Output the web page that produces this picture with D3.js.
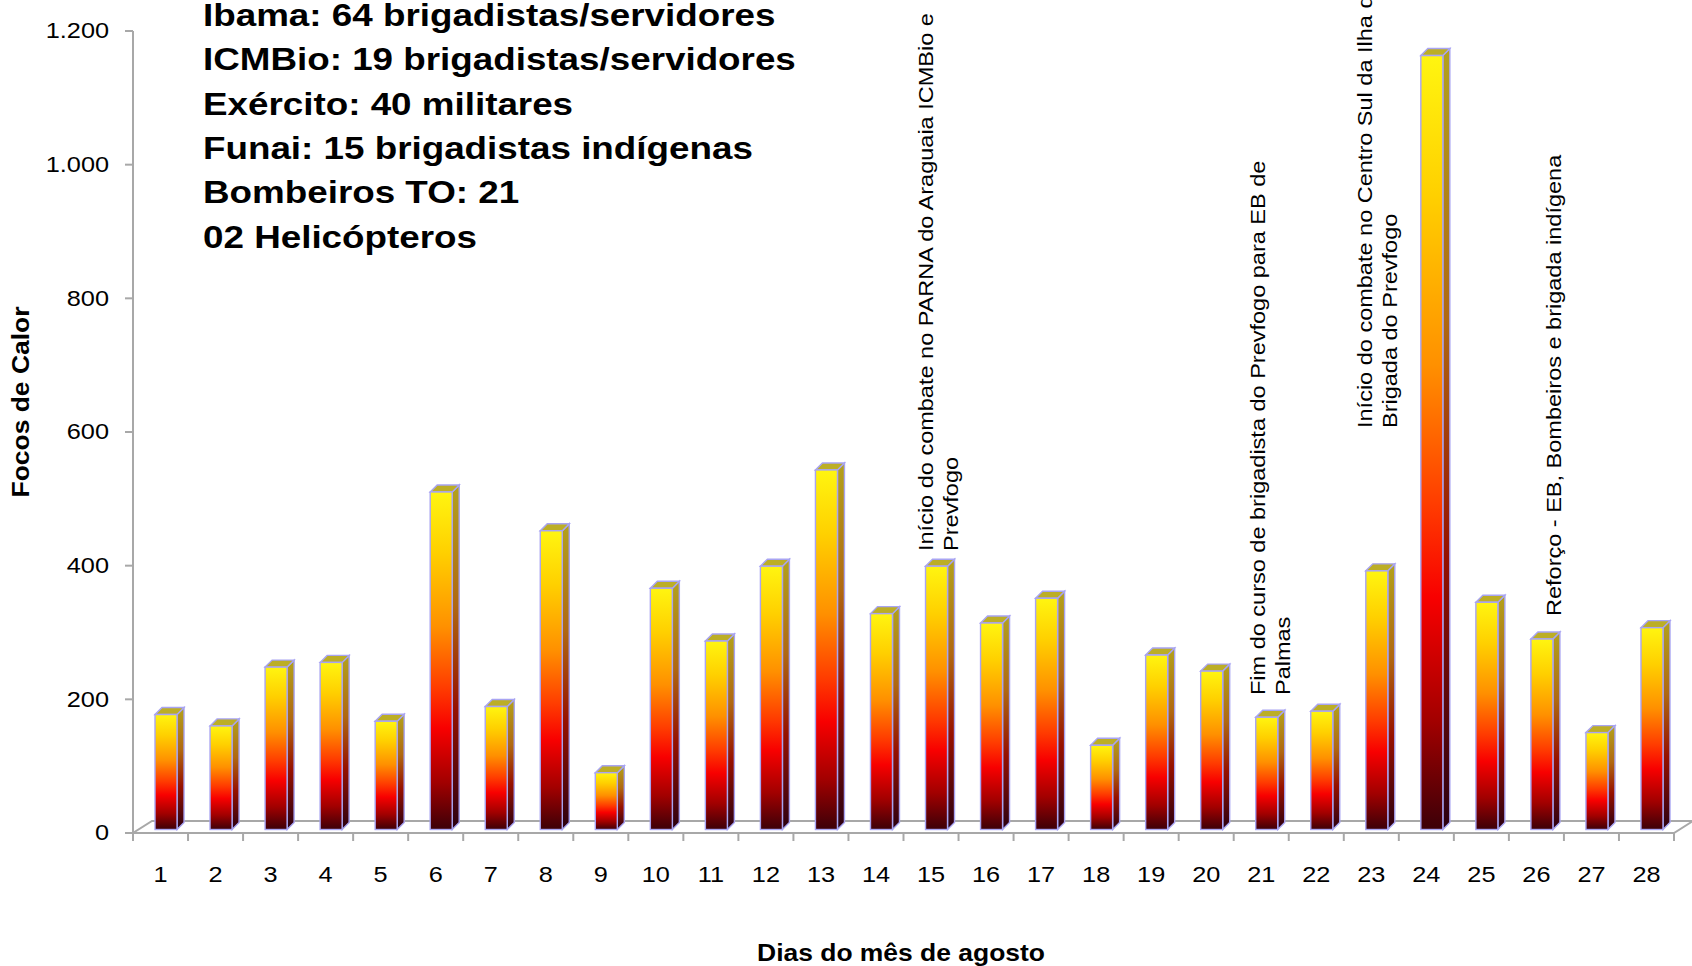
<!DOCTYPE html>
<html>
<head>
<meta charset="utf-8">
<script src="https://cdn.jsdelivr.net/npm/d3@7"></script>
<style>
  html, body { margin: 0; padding: 0; background: #ffffff; }
  svg { display: block; }
  text { font-family: "Liberation Sans", Arial, sans-serif; fill: #000; }
</style>
</head>
<body>
<svg id="chart" width="1692" height="966"></svg>
<script>
// ---------------- data ----------------
const days = [1,2,3,4,5,6,7,8,9,10,11,12,13,14,15,16,17,18,19,20,21,22,23,24,25,26,27,28];
const focos = [172,155,243,250,162,505,184,447,85,361,282,394,538,323,394,309,346,126,261,237,168,177,387,1158,340,285,145,302];
const yTicks = [0,200,400,600,800,1000,1200];
const yTickLabels = ["0","200","400","600","800","1.000","1.200"];
const infoLines = [
  "Ibama: 64 brigadistas/servidores",
  "ICMBio: 19 brigadistas/servidores",
  "Exército: 40 militares",
  "Funai: 15 brigadistas indígenas",
  "Bombeiros TO: 21",
  "02 Helicópteros"
];
const noteDays = [15, 21, 23, 26];
const noteTexts = [
  ["Início do combate no PARNA  do Araguaia ICMBio e", "Prevfogo"],
  ["Fim do curso de brigadista do Prevfogo para EB de", "Palmas"],
  ["Início do combate no Centro Sul da Ilha do Bananal", "Brigada do Prevfogo"],
  ["Reforço - EB,  Bombeiros e brigada indígena"]
];
const yTitle = "Focos de Calor";
const xTitle = "Dias do mês de agosto";

// ---------------- layout ----------------
const svg = d3.select("#chart");
const W = 1692, H = 966;
const y = d3.scaleLinear().domain([0, 1200]).range([833, 31]);
const x = d3.scaleBand().domain(days).range([133, 1674]).padding(0);
const bw = x.bandwidth();
const gray = "#a8a8a8";
const SX = 1.15; // horizontal stretch of the lettering

// gradients
const defs = svg.append("defs");
const gFront = defs.append("linearGradient").attr("id", "gFront")
  .attr("x1", 0).attr("y1", 0).attr("x2", 0).attr("y2", 1);
[[0,"#fff510"],[0.18,"#ffd000"],[0.4,"#ff9000"],[0.58,"#ff3c00"],[0.7,"#f80000"],[0.86,"#a20000"],[1,"#3c0008"]]
  .forEach(([o,c]) => gFront.append("stop").attr("offset", o).attr("stop-color", c));
const gSide = defs.append("linearGradient").attr("id", "gSide")
  .attr("x1", 0).attr("y1", 0).attr("x2", 0).attr("y2", 1);
[[0,"#b3a21c"],[0.35,"#b06812"],[0.65,"#961000"],[1,"#2a0012"]]
  .forEach(([o,c]) => gSide.append("stop").attr("offset", o).attr("stop-color", c));

// floor
const fdx = 19, fdy = 12;
svg.append("path")
  .attr("d", `M${x.range()[0]},${y(0)} L${x.range()[1]},${y(0)} L${x.range()[1]+fdx},${y(0)-fdy} L${x.range()[0]+fdx},${y(0)-fdy} Z`)
  .attr("fill", "none").attr("stroke", gray).attr("stroke-width", 2);

// y axis
svg.append("line").attr("x1", 133).attr("x2", 133).attr("y1", y(1200)).attr("y2", y(0) + 7)
  .attr("stroke", gray).attr("stroke-width", 2);
svg.selectAll(".ytick").data(yTicks).enter().append("line")
  .attr("x1", 125).attr("x2", 133).attr("y1", d => y(d)).attr("y2", d => y(d))
  .attr("stroke", gray).attr("stroke-width", 2);
svg.selectAll(".ylab").data(yTicks).enter().append("text")
  .attr("text-anchor", "end").attr("dominant-baseline", "central")
  .attr("font-size", 22)
  .attr("transform", d => `translate(109,${y(d)}) scale(${SX},1)`)
  .text((d, i) => yTickLabels[i]);

// x ticks
const tickXs = days.map(d => x(d)).concat([x.range()[1]]);
svg.selectAll(".xtick").data(tickXs).enter().append("line")
  .attr("x1", d => d).attr("x2", d => d).attr("y1", y(0)).attr("y2", y(0) + 8)
  .attr("stroke", gray).attr("stroke-width", 2);
svg.selectAll(".xlab").data(days).enter().append("text")
  .attr("text-anchor", "middle").attr("font-size", 22)
  .attr("transform", d => `translate(${x(d) + bw / 2},882) scale(${SX},1)`)
  .text(d => d);

// bars
const bdx = 7, bdy = 7, bShift = 3.5;
const barW = bw * 0.4;
const bars = svg.selectAll(".bar").data(days).enter().append("g");
bars.each(function(d, i) {
  const g = d3.select(this);
  const xl = x(d) + bw * 0.4, xr = xl + barW;
  const yb = y(0) - bShift, yt = y(focos[i]) - bShift;
  const stroke = "#a8a4f2";
  g.append("path")
    .attr("d", `M${xr},${yb} L${xr+bdx},${yb-bdy} L${xr+bdx},${yt-bdy} L${xr},${yt} Z`)
    .attr("fill", "url(#gSide)").attr("stroke", stroke).attr("stroke-width", 1.4);
  g.append("path")
    .attr("d", `M${xl},${yt} L${xl+bdx},${yt-bdy} L${xr+bdx},${yt-bdy} L${xr},${yt} Z`)
    .attr("fill", "#bcae26").attr("stroke", stroke).attr("stroke-width", 1.4);
  g.append("rect")
    .attr("x", xl).attr("y", yt).attr("width", barW).attr("height", yb - yt)
    .attr("fill", "url(#gFront)").attr("stroke", stroke).attr("stroke-width", 1.4);
});

// info block
svg.selectAll(".info").data(infoLines).enter().append("text")
  .attr("font-size", 32).attr("font-weight", "bold")
  .attr("transform", (d, i) => `translate(203,${26 + i * 44.3}) scale(${SX},1)`)
  .text(d => d);

// annotations (vertical)
const noteX = [918, 1250, 1357, 1546];
const noteY = [551, 695, 428, 616];
noteDays.forEach((day, k) => {
  noteTexts[k].forEach((line, j) => {
    svg.append("text")
      .attr("font-size", 21)
      .attr("transform", `translate(${noteX[k] + 15 + j * 25},${noteY[k]}) rotate(-90) scale(1.12,1)`)
      .text(line);
  });
});

// axis titles
svg.append("text")
  .attr("font-size", 23).attr("font-weight", "bold").attr("text-anchor", "middle")
  .attr("transform", `translate(29,402) rotate(-90) scale(${SX},1)`)
  .text(yTitle);
svg.append("text")
  .attr("font-size", 23).attr("font-weight", "bold").attr("text-anchor", "middle")
  .attr("transform", `translate(901,961) scale(${SX},1)`)
  .text(xTitle);
</script>
</body>
</html>
